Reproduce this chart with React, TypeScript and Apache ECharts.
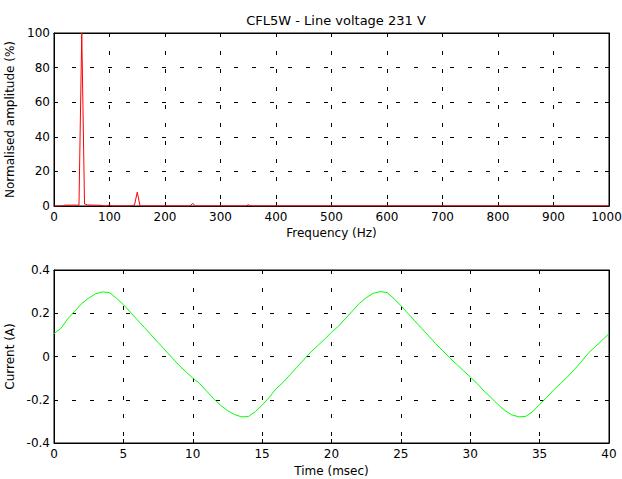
import React, { useEffect, useRef } from "react";
import * as echarts from "echarts";

const titleText = "CFL5W - Line voltage 231 V";

const freqHz = [0, 15, 20, 45, 50, 55, 60, 85, 90, 95, 100, 105, 135, 145, 150, 155, 245, 250, 255, 345, 350, 355, 1000];
const amplitudePct = [0, 0, 0.5, 0.5, 100, 1.2, 0.6, 0.4, 0, 0, 0.6, 0, 0, 0.5, 8, 0, 0, 1.5, 0, 0, 0.7, 0, 0];

const timeMs = [
  0, 0.5, 1, 1.5, 2, 2.5, 3, 3.5, 4, 4.5, 5, 5.5, 6, 6.5, 7, 7.5, 8, 8.5, 9, 9.5,
  10, 10.5, 11, 11.5, 12, 12.5, 13, 13.5, 14, 14.5, 15, 15.5, 16, 16.5, 17, 17.5, 18, 18.5, 19, 19.5,
  20, 20.5, 21, 21.5, 22, 22.5, 23, 23.5, 24, 24.5, 25, 25.5, 26, 26.5, 27, 27.5, 28, 28.5, 29, 29.5,
  30, 30.5, 31, 31.5, 32, 32.5, 33, 33.5, 34, 34.5, 35, 35.5, 36, 36.5, 37, 37.5, 38, 38.5, 39, 39.5, 40,
];
const currentA = [
  0.106, 0.13, 0.175, 0.21, 0.245, 0.27, 0.29, 0.299, 0.295, 0.27, 0.24, 0.205, 0.17, 0.135, 0.1, 0.065, 0.03, -0.005, -0.04, -0.07,
  -0.1, -0.125, -0.16, -0.195, -0.225, -0.25, -0.268, -0.279, -0.278, -0.255, -0.225, -0.19, -0.15, -0.12, -0.085, -0.05, -0.015, 0.02, 0.05, 0.08,
  0.112, 0.14, 0.175, 0.21, 0.245, 0.272, 0.292, 0.3, 0.296, 0.268, 0.235, 0.2, 0.165, 0.13, 0.095, 0.06, 0.028, -0.005, -0.035, -0.065,
  -0.095, -0.125, -0.16, -0.19, -0.222, -0.25, -0.27, -0.279, -0.277, -0.255, -0.222, -0.19, -0.155, -0.125, -0.095, -0.06, -0.025, 0.015, 0.045, 0.075, 0.106,
];

const FONT = "DejaVu Sans, sans-serif";

export default function App() {
  const ref = useRef<HTMLDivElement>(null);
  useEffect(() => {
    if (!ref.current) return;
    const chart = echarts.init(ref.current, undefined, { renderer: "svg" });
    const grid = { left: 54, right: 13, borderColor: "#000", borderWidth: 1, show: true, containLabel: false, outerBoundsMode: "none" };
    const dashed = { show: true, lineStyle: { color: "#000", type: [4, 14] as any, width: 1 } };
    const label = { color: "#000", fontSize: 12, fontFamily: FONT, formatter: (v: number) => String(v) };
    const tick = { show: true, inside: true, length: 4, lineStyle: { color: "#000" } };
    const line = { show: true, onZero: false, lineStyle: { color: "#000", width: 1 } };
    const nameStyle = { color: "#000", fontSize: 12, fontFamily: FONT };
    const hidden = { show: false };
    chart.setOption({
      animation: false,
      backgroundColor: "#fff",
      title: {
        text: titleText,
        left: 331,
        textAlign: "center",
        top: 9,
        textStyle: { color: "#000", fontSize: 13, fontWeight: "normal", fontFamily: FONT },
      },
      grid: [
        { ...grid, top: 33, height: 173 },
        { ...grid, top: 270, height: 173 },
      ],
      xAxis: [
        {
          type: "value", gridIndex: 0, min: 0, max: 1000, interval: 100,
          name: "Frequency (Hz)", nameLocation: "middle", nameGap: 21, nameTextStyle: nameStyle,
          axisLabel: {
            ...label, margin: 5,
            formatter: (v: number) => (v === 1000 ? "{e|1000}" : String(v)),
            rich: { e: { color: "#000", fontSize: 12, fontFamily: FONT, padding: [0, 5, 0, 0] } },
          },
          axisTick: tick, axisLine: line, splitLine: dashed,
        },
        {
          type: "value", gridIndex: 1, min: 0, max: 40, interval: 5,
          name: "Time (msec)", nameLocation: "middle", nameGap: 22, nameTextStyle: nameStyle,
          axisLabel: { ...label, margin: 5 }, axisTick: tick, axisLine: line, splitLine: dashed,
        },
        {
          type: "value", gridIndex: 0, position: "top", min: 0, max: 1000, interval: 100,
          axisLabel: hidden, axisTick: tick, axisLine: line, splitLine: hidden,
        },
        {
          type: "value", gridIndex: 1, position: "top", min: 0, max: 40, interval: 5,
          axisLabel: hidden, axisTick: tick, axisLine: line, splitLine: hidden,
        },
      ],
      yAxis: [
        {
          type: "value", gridIndex: 0, min: 0, max: 100, interval: 20,
          name: "Normalised amplitude (%)", nameLocation: "middle", nameGap: 31, nameTextStyle: nameStyle,
          axisLabel: { ...label, margin: 4 }, axisTick: tick, axisLine: line, splitLine: dashed,
        },
        {
          type: "value", gridIndex: 1, min: -0.4, max: 0.4, interval: 0.2,
          name: "Current (A)", nameLocation: "middle", nameGap: 33, nameTextStyle: nameStyle,
          axisLabel: { ...label, margin: 4 }, axisTick: tick, axisLine: line, splitLine: dashed,
        },
        {
          type: "value", gridIndex: 0, position: "right", min: 0, max: 100, interval: 20,
          axisLabel: hidden, axisTick: tick, axisLine: line, splitLine: hidden,
        },
        {
          type: "value", gridIndex: 1, position: "right", min: -0.4, max: 0.4, interval: 0.2,
          axisLabel: hidden, axisTick: tick, axisLine: line, splitLine: hidden,
        },
      ],
      series: [
        {
          type: "line", xAxisIndex: 0, yAxisIndex: 0, showSymbol: false, silent: true,
          data: freqHz.map((f, i) => [f, amplitudePct[i]]),
          lineStyle: { color: "#ff0000", width: 1 },
        },
        {
          type: "line", xAxisIndex: 1, yAxisIndex: 1, showSymbol: false, silent: true,
          data: timeMs.map((t, i) => [t, currentA[i]]),
          lineStyle: { color: "#00ff00", width: 1 },
        },
      ],
    });
    return () => chart.dispose();
  }, []);
  return <div ref={ref} style={{ position: "absolute", left: 0, top: 0, width: 622, height: 479 }} />;
}
